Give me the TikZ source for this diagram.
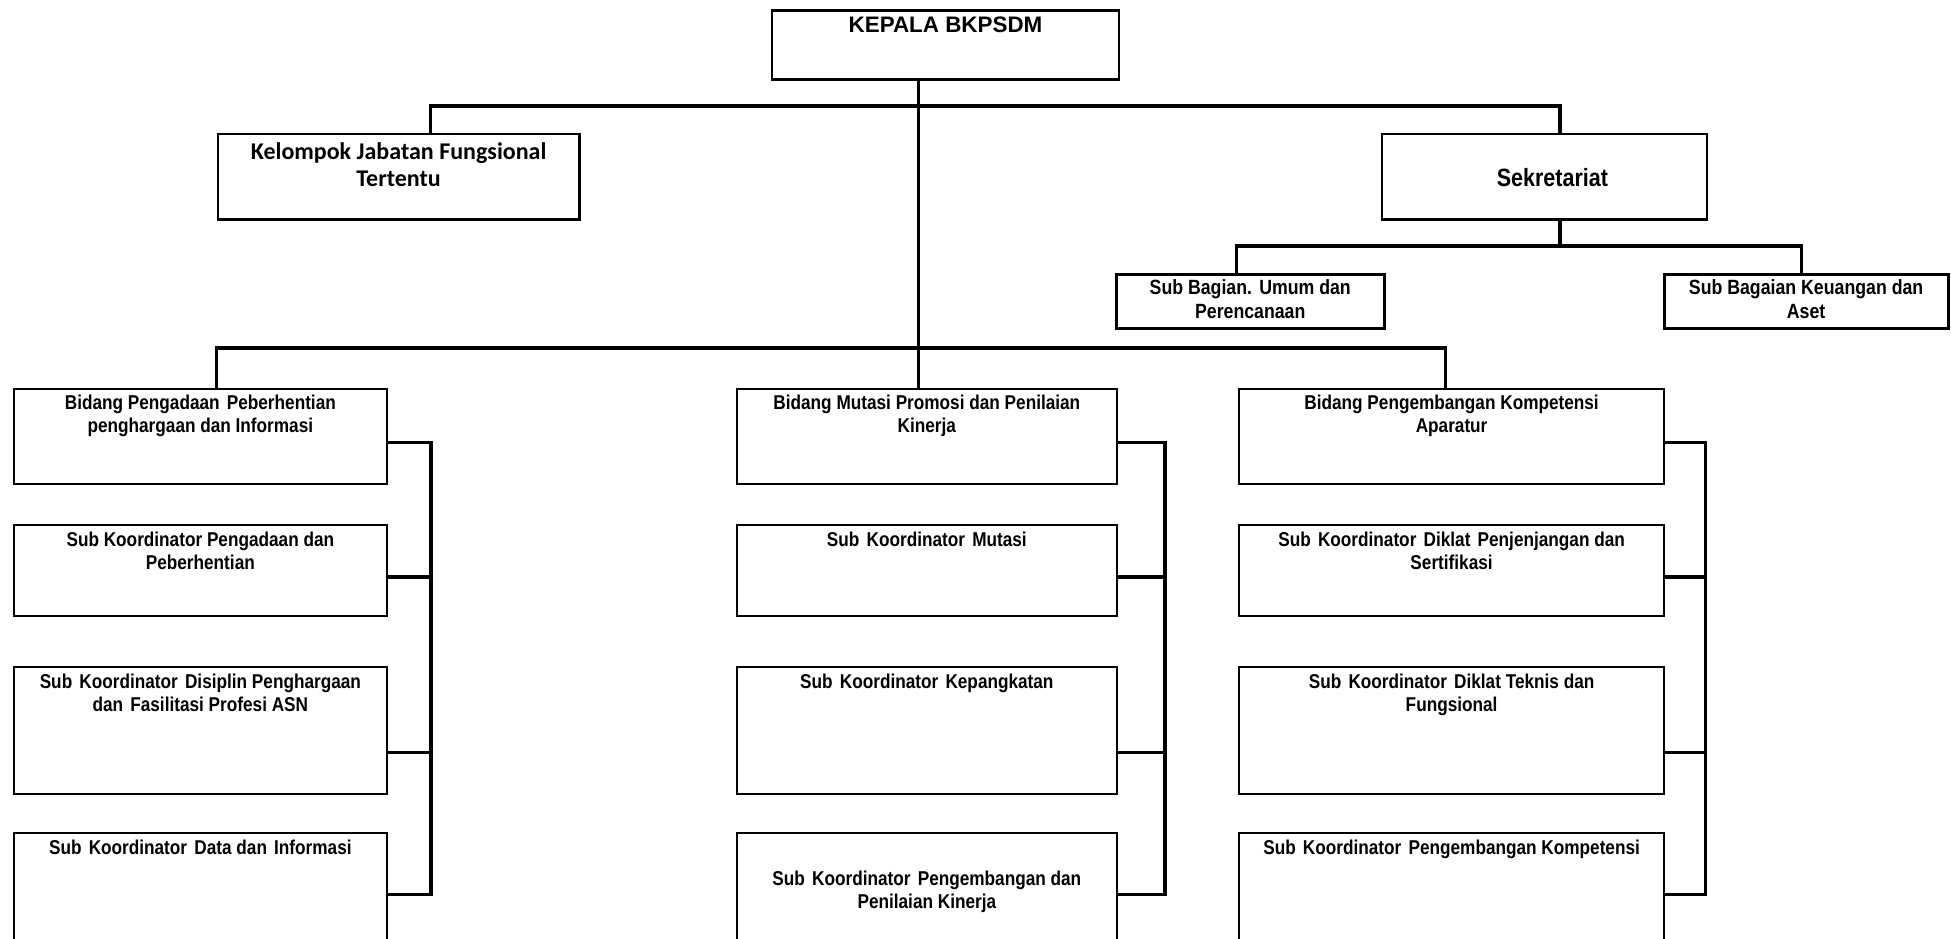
\documentclass[tikz,border=0pt]{standalone}
\usepackage{fontspec}
\setmainfont{Liberation Sans}
\newfontfamily\arn[FakeStretch=0.86]{Liberation Sans}
\newfontfamily\calb{Carlito}
\newcommand\bt[4]{\parbox[c][#2][t]{#1}{\centering\vspace*{#3}#4\par}}
\newcommand\dsp{\hspace{3.6pt}}
\begin{document}
\begin{tikzpicture}[x=0.5pt,y=-0.5pt,
  box/.style={draw, line width=1.1pt, inner sep=0pt, anchor=north west},
  conn/.style={line width=1.7pt, line join=miter},
  coltxt/.style={font=\arn\bfseries\fontsize{10}{11.3}\selectfont},
  subtxt/.style={font=\arn\bfseries\fontsize{10.3}{12}\selectfont},
 ]
\useasboundingbox (0,0) rectangle (1951,938);
\clip (0,0) rectangle (1951,938);

% top level
\node[box, line width=1.3pt, font=\bfseries\fontsize{11.2}{13}\selectfont] (kepala) at (770.7,9)
  {\bt{173.5pt}{34.5pt}{3.3pt}{KEPALA BKPSDM}};
\node[box, font=\calb\bfseries\fontsize{12}{13.5}\selectfont] (kjf) at (216.7,132.7)
  {\bt{180.8pt}{42.8pt}{4.3pt}{Kelompok Jabatan Fungsional\\Tertentu}};
\node[box, font=\arn\bfseries\fontsize{12.5}{15}\selectfont] (sek) at (1381,132.7)
  {\bt{162.35pt}{42.8pt}{17.2pt}{\hspace*{8pt}Sekretariat}};
\node[box, line width=1.4pt, subtxt] (umum) at (1115,273)
  {\bt{133.85pt}{26.85pt}{2.6pt}{Sub Bagian.\dsp Umum dan\\Perencanaan}};
\node[box, line width=1.4pt, subtxt] (keu) at (1662.7,273)
  {\bt{142pt}{26.85pt}{2.6pt}{Sub Bagaian Keuangan dan\\Aset}};

% column A
\node[box, coltxt] (bidA) at (12.5,387.5)
  {\bt{186.75pt}{47.75pt}{3.2pt}{Bidang Pengadaan\dsp Peberhentian\\penghargaan dan Informasi}};
\node[box, coltxt] (subA1) at (12.5,523.6)
  {\bt{186.75pt}{45.7pt}{3.6pt}{Sub Koordinator Pengadaan dan\\Peberhentian}};
\node[box, coltxt] (subA2) at (12.5,665.7)
  {\bt{186.75pt}{63.4pt}{3.6pt}{Sub\dsp Koordinator\dsp Disiplin Penghargaan\\dan\dsp Fasilitasi Profesi ASN}};
\node[box, coltxt] (subA3) at (12.5,832)
  {\bt{186.75pt}{65pt}{3.2pt}{Sub\dsp Koordinator\dsp Data dan\dsp Informasi}};

% column B
\node[box, coltxt] (bidB) at (735.5,387.5)
  {\bt{190.25pt}{47.75pt}{3.2pt}{Bidang Mutasi Promosi dan Penilaian\\Kinerja}};
\node[box, coltxt] (subB1) at (735.5,523.6)
  {\bt{190.25pt}{45.7pt}{3.6pt}{Sub\dsp Koordinator\dsp Mutasi}};
\node[box, coltxt] (subB2) at (735.5,665.7)
  {\bt{190.25pt}{63.4pt}{3.6pt}{Sub\dsp Koordinator\dsp Kepangkatan}};
\node[box, coltxt] (subB3) at (735.5,832)
  {\bt{190.25pt}{65pt}{19pt}{Sub\dsp Koordinator\dsp Pengembangan dan\\Penilaian Kinerja}};

% column C
\node[box, coltxt] (bidC) at (1238,387.5)
  {\bt{212.5pt}{47.75pt}{3.2pt}{Bidang Pengembangan Kompetensi\\Aparatur}};
\node[box, coltxt] (subC1) at (1238,523.6)
  {\bt{212.5pt}{45.7pt}{3.6pt}{Sub\dsp Koordinator\dsp Diklat\dsp Penjenjangan dan\\Sertifikasi}};
\node[box, coltxt] (subC2) at (1238,665.7)
  {\bt{212.5pt}{63.4pt}{3.6pt}{Sub\dsp Koordinator\dsp Diklat Teknis dan\\Fungsional}};
\node[box, coltxt] (subC3) at (1238,832)
  {\bt{212.5pt}{65pt}{3.2pt}{Sub\dsp Koordinator\dsp Pengembangan Kompetensi}};

% routing coordinates
\coordinate (v) at (918.3,0);
\coordinate (t1) at (430.5,106);
\coordinate (t2) at (1560,106);
\coordinate (u1) at (1236.7,246);
\coordinate (u2) at (1801.7,246);
\coordinate (m1) at (216.7,348);
\coordinate (m2) at (1445.7,348);
\coordinate (a1) at (430.8,442.5);
\coordinate (a2) at (430.8,576.9);
\coordinate (a3) at (430.8,752.6);
\coordinate (a4) at (430.8,894.6);
\coordinate (b1) at (1165,442.5);
\coordinate (b2) at (1165,576.9);
\coordinate (b3) at (1165,752.6);
\coordinate (b4) at (1165,894.6);
\coordinate (c1) at (1705.3,442.5);
\coordinate (c2) at (1705.3,576.9);
\coordinate (c3) at (1705.3,752.6);
\coordinate (c4) at (1705.3,894.6);

% connectors
\draw[conn] (kepala.south -| v) -- (bidB.north -| v);
\draw[conn] (kjf.north -| t1) -- (t1) -- (t2) -- (sek.north -| t2);
\draw[conn] (sek.south -| t2) -- (t2 |- u1);
\draw[conn] (umum.north -| u1) -- (u1) -- (u2) -- (keu.north -| u2);
\draw[conn] (bidA.north -| m1) -- (m1) -- (m2) -- (bidC.north -| m2);

\draw[conn] (bidA.east |- a1) -- (a1) -- (a4) -- (subA3.east |- a4);
\draw[conn] (subA1.east |- a2) -- (a2);
\draw[conn] (subA2.east |- a3) -- (a3);
\draw[conn] (bidB.east |- b1) -- (b1) -- (b4) -- (subB3.east |- b4);
\draw[conn] (subB1.east |- b2) -- (b2);
\draw[conn] (subB2.east |- b3) -- (b3);
\draw[conn] (bidC.east |- c1) -- (c1) -- (c4) -- (subC3.east |- c4);
\draw[conn] (subC1.east |- c2) -- (c2);
\draw[conn] (subC2.east |- c3) -- (c3);
\end{tikzpicture}
\end{document}
